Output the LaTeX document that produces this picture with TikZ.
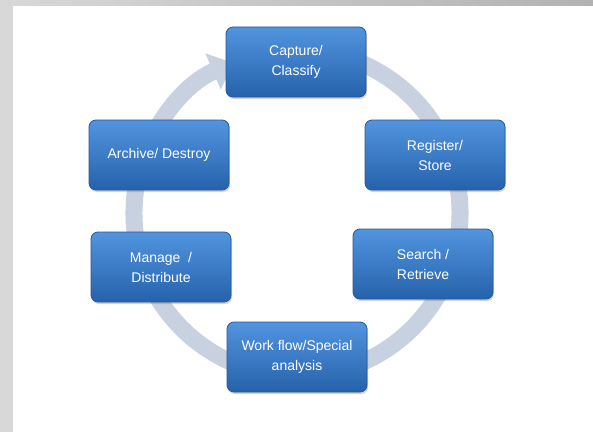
\documentclass[tikz,border=0pt]{standalone}
\usepackage{fontspec}
\setmainfont{Liberation Sans}
\usepackage{xcolor}
\usepackage{tikz}
\usetikzlibrary{arrows.meta,shadows}
\definecolor{boxtop}{RGB}{82,148,222}
\definecolor{boxbot}{RGB}{38,98,172}
\definecolor{boxedge}{RGB}{40,86,150}
\definecolor{ringcol}{RGB}{200,209,224}
\definecolor{framegray}{RGB}{216,216,216}
\definecolor{framedark}{RGB}{178,178,178}
\tikzstyle{stage} = [rectangle, rounded corners=7pt, minimum width=140pt, minimum height=70pt, align=center, text=white, font=\fontsize{14}{20}\selectfont, draw=boxedge, line width=0.8pt, top color=boxtop, bottom color=boxbot, drop shadow={opacity=0.35, shadow xshift=1pt, shadow yshift=-2pt}]
\tikzstyle{ring} = [line width=17pt, draw=ringcol, -{Triangle[length=22pt,width=38pt]}]

\begin{document}
\begin{tikzpicture}[x=1pt,y=1pt]
  % frame
  \fill[white] (0,0) rectangle (593,432);
  \fill[framegray] (0,0) rectangle (13,432);
  \shade[left color=framegray, right color=framedark] (0,426) rectangle (593,432);
  \useasboundingbox (0,0) rectangle (593,432);

  % cycle arrow behind the boxes
  \coordinate (o) at (297,219);
  \draw[ring] (o) ++(80:163) arc[start angle=80, end angle=-247, radius=163];

  \node [stage](cap) at (296,370) {Capture/\\Classify};
  \node [stage](reg) at (435,277) {Register/\\Store};
  \node [stage](sea) at (423,168) {Search /\\Retrieve};
  \node [stage](wfl) at (297,75)  {Work flow/Special\\analysis};
  \node [stage](man) at (161,165) {Manage \ /\\Distribute};
  \node [stage](arc) at (159,277) {Archive/ Destroy};
\end{tikzpicture}
\end{document}
